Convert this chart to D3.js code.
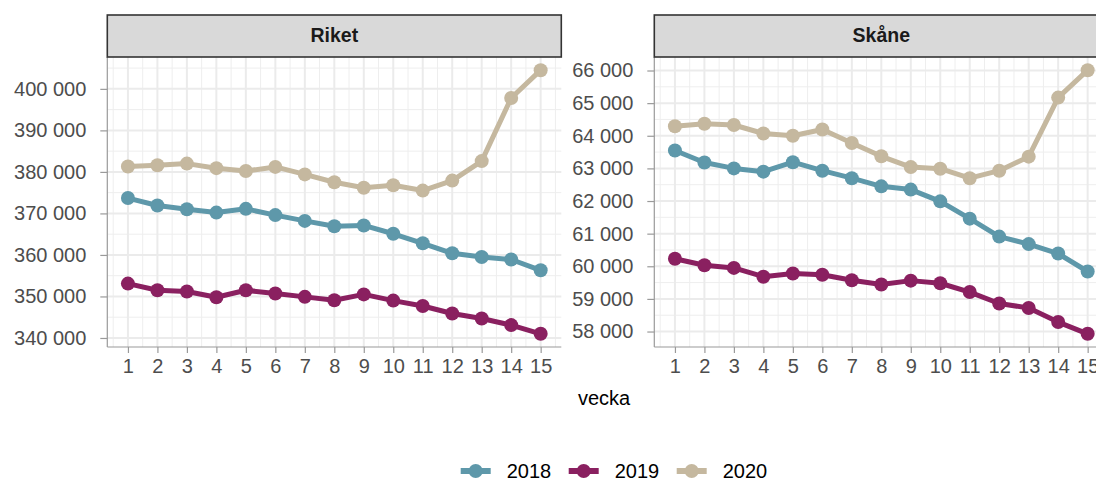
<!DOCTYPE html>
<html>
<head>
<meta charset="utf-8">
<script src="https://cdn.jsdelivr.net/npm/d3@7"></script>
<style>
  body { margin: 0; background: #fff; }
  svg { display: block; font-family: "Liberation Sans", Arial, sans-serif; }
</style>
</head>
<body>
<div id="chart"></div>
<script>
// Data.
let weeks = [1, 2, 3, 4, 5, 6, 7, 8, 9, 10, 11, 12, 13, 14, 15];
let years = ["2018", "2019", "2020"];
let colors = ["#5E98AA", "#8A2060", "#C5B89F"];

let riket2018 = [373700, 371900, 371000, 370200, 371100, 369600, 368200, 366900, 367100, 365100, 362800, 360400, 359500, 358900, 356300];
let riket2019 = [353100, 351500, 351200, 349800, 351500, 350700, 349900, 349100, 350500, 349000, 347700, 345900, 344700, 343100, 341000];
let riket2020 = [381300, 381600, 382000, 380900, 380200, 381200, 379400, 377500, 376200, 376800, 375500, 377900, 382600, 397800, 404500];

let skane2018 = [63550, 63180, 63000, 62900, 63190, 62930, 62700, 62450, 62350, 61990, 61460, 60910, 60680, 60390, 59840];
let skane2019 = [60230, 60030, 59950, 59680, 59780, 59740, 59570, 59440, 59560, 59480, 59210, 58860, 58720, 58290, 57930];
let skane2020 = [64290, 64370, 64330, 64070, 64000, 64190, 63780, 63370, 63040, 62990, 62700, 62930, 63360, 65170, 66010];

let riketTicks = [340000, 350000, 360000, 370000, 380000, 390000, 400000];
let skaneTicks = [58000, 59000, 60000, 61000, 62000, 63000, 64000, 65000, 66000];

// Layout
let W = 1096, H = 479;
let panelTop = 57, panelBottom = 347, stripTop = 15;
let panelW = 454;

let svg = d3.select("#chart")
  .append("svg")
  .attr("width", W)
  .attr("height", H);

let fmt = d3.formatLocale({ decimal: ",", thousands: "\u00a0", grouping: [3], currency: ["", ""] }).format(",d");

function drawPanel(left, title, series, yTicks) {
  let right = left + panelW;
  let allVals = series.flat();
  let lo = d3.min(allVals), hi = d3.max(allVals);
  let pad = (hi - lo) * 0.05;

  let x = d3.scaleLinear().domain([1 - 0.7, 15 + 0.7]).range([left, right]);
  let y = d3.scaleLinear().domain([lo - pad, hi + pad]).range([panelBottom, panelTop]);

  let g = svg.append("g");

  // minor grid
  let ystep = yTicks[1] - yTicks[0];
  let yMinor = [yTicks[0] - ystep / 2].concat(yTicks.map(d => d + ystep / 2))
    .filter(d => d > y.domain()[0] && d < y.domain()[1]);
  let xMinor = [0.5].concat(weeks.map(d => d + 0.5));

  g.append("g").selectAll("line")
    .data(yMinor)
    .join("line")
      .attr("x1", left).attr("x2", right)
      .attr("y1", d => y(d)).attr("y2", d => y(d))
      .attr("stroke", "#EEEEEE").attr("stroke-width", 1);
  g.append("g").selectAll("line")
    .data(xMinor)
    .join("line")
      .attr("x1", d => x(d)).attr("x2", d => x(d))
      .attr("y1", panelTop).attr("y2", panelBottom)
      .attr("stroke", "#EEEEEE").attr("stroke-width", 1);

  // major grid
  g.append("g").selectAll("line")
    .data(yTicks)
    .join("line")
      .attr("x1", left).attr("x2", right)
      .attr("y1", d => y(d)).attr("y2", d => y(d))
      .attr("stroke", "#EBEBEB").attr("stroke-width", 2);
  g.append("g").selectAll("line")
    .data(weeks)
    .join("line")
      .attr("x1", d => x(d)).attr("x2", d => x(d))
      .attr("y1", panelTop).attr("y2", panelBottom)
      .attr("stroke", "#EBEBEB").attr("stroke-width", 2);

  // axes
  let yAxis = d3.axisLeft(y).tickValues(yTicks).tickSize(7).tickPadding(14).tickFormat(fmt);
  let xAxis = d3.axisBottom(x).tickValues(weeks).tickSize(6).tickPadding(6).tickFormat(d3.format("d"));

  let ya = g.append("g").attr("transform", "translate(" + left + ",0)").call(yAxis);
  let xa = g.append("g").attr("transform", "translate(0," + panelBottom + ")").call(xAxis);
  [ya, xa].forEach(a => {
    a.select(".domain").attr("stroke", "#9A9A9A").attr("stroke-width", 1.2);
    a.selectAll(".tick line").attr("stroke", "#9A9A9A").attr("stroke-width", 1.2);
    a.selectAll(".tick text").attr("fill", "#4D4D4D").style("font-size", "20px").style("font-family", "Liberation Sans, Arial, sans-serif");
  });
  ya.select(".domain").attr("d", "M0," + panelTop + "V" + panelBottom);
  xa.select(".domain").attr("d", "M" + left + ",0H" + right);

  // lines and points
  let line = d3.line().x((d, i) => x(weeks[i])).y(d => y(d));
  series.forEach((s, k) => {
    g.append("path")
      .datum(s)
      .attr("d", line)
      .attr("fill", "none")
      .attr("stroke", colors[k])
      .attr("stroke-width", 5)
      .attr("stroke-linejoin", "round");
  });
  series.forEach((s, k) => {
    g.append("g").selectAll("circle")
      .data(s)
      .join("circle")
        .attr("cx", (d, i) => x(weeks[i]))
        .attr("cy", d => y(d))
        .attr("r", 7)
        .attr("fill", colors[k]);
  });

  // strip
  g.append("rect")
    .attr("x", left).attr("y", stripTop)
    .attr("width", panelW).attr("height", panelTop - stripTop)
    .attr("fill", "#D9D9D9").attr("stroke", "#333333").attr("stroke-width", 1.6);
  g.append("text")
    .attr("x", (left + right) / 2).attr("y", 42)
    .attr("text-anchor", "middle")
    .attr("fill", "#1A1A1A")
    .style("font-size", "19.5px").style("font-weight", "bold")
    .text(title);
}

drawPanel(107.3, "Riket", [riket2018, riket2019, riket2020], riketTicks);
drawPanel(654.3, "Skåne", [skane2018, skane2019, skane2020], skaneTicks);

// x-axis title
svg.append("text")
  .attr("x", 604).attr("y", 405)
  .attr("text-anchor", "middle")
  .attr("fill", "#000")
  .style("font-size", "20px")
  .text("vecka");

// legend
let legend = svg.append("g").selectAll("g")
  .data(years)
  .join("g")
    .attr("transform", (d, i) => "translate(" + (460.7 + i * 108) + ",0)");
legend.append("line")
  .attr("x1", 0).attr("x2", 30).attr("y1", 471).attr("y2", 471)
  .attr("stroke", (d, i) => colors[i]).attr("stroke-width", 6);
legend.append("circle")
  .attr("cx", 15).attr("cy", 471).attr("r", 7)
  .attr("fill", (d, i) => colors[i]);
legend.append("text")
  .attr("x", 46).attr("y", 478)
  .attr("fill", "#000")
  .style("font-size", "20px")
  .text(d => d);
</script>
</body>
</html>
